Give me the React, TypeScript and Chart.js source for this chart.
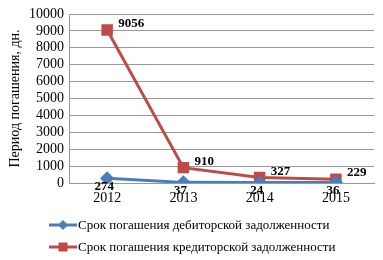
import React, { useEffect, useRef } from "react";
import { Chart, registerables } from "chart.js";

Chart.register(...registerables);

const categories = ["2012", "2013", "2014", "2015"];
const debtorDays = [274, 37, 24, 36];
const creditorDays = [9056, 910, 327, 229];
const seriesNames = [
  "Срок погашения дебиторской задолженности",
  "Срок погашения кредиторской задолженности",
];
const yTitle = "Период погашения, дн.";

const BLUE = "#4A7EBB";
const RED = "#BE4B48";
const FONT = "Liberation Serif";

const labelPlugin = {
  id: "valueLabels",
  afterDatasetsDraw(chart: any) {
    const ctx = chart.ctx;
    ctx.save();
    ctx.font = `bold 13px "${FONT}"`;
    ctx.fillStyle = "#000";
    ctx.textBaseline = "middle";
    chart.data.datasets.forEach((ds: any, di: number) => {
      const meta = chart.getDatasetMeta(di);
      meta.data.forEach((pt: any, i: number) => {
        const v = String(ds.data[i]);
        if (di === 0) {
          ctx.textAlign = "center";
          ctx.fillText(v, pt.x - 3, pt.y + 8);
        } else {
          ctx.textAlign = "left";
          ctx.fillText(v, pt.x + 11, pt.y - 6);
        }
      });
    });
    ctx.restore();
  },
};

const legendPlugin = {
  id: "customLegend",
  afterDraw(chart: any) {
    const ctx = chart.ctx;
    ctx.save();
    const items = [
      { name: seriesNames[0], color: BLUE, style: "diamond", y: 225 },
      { name: seriesNames[1], color: RED, style: "square", y: 247 },
    ];
    items.forEach((it) => {
      ctx.strokeStyle = it.color;
      ctx.lineWidth = 3;
      ctx.beginPath();
      ctx.moveTo(49, it.y);
      ctx.lineTo(77, it.y);
      ctx.stroke();
      ctx.fillStyle = it.color;
      const cx = 63;
      if (it.style === "diamond") {
        ctx.beginPath();
        ctx.moveTo(cx, it.y - 5);
        ctx.lineTo(cx + 5, it.y);
        ctx.lineTo(cx, it.y + 5);
        ctx.lineTo(cx - 5, it.y);
        ctx.closePath();
        ctx.fill();
      } else {
        ctx.fillRect(cx - 4.5, it.y - 4.5, 9, 9);
      }
      ctx.fillStyle = "#000";
      ctx.font = `13px "${FONT}"`;
      ctx.textAlign = "left";
      ctx.textBaseline = "middle";
      ctx.fillText(it.name, 78, it.y + 1);
    });
    ctx.restore();
  },
};

export default function App() {
  const ref = useRef<HTMLCanvasElement | null>(null);
  useEffect(() => {
    document.body.style.margin = "0";
    let chart: any = null;
    let cancelled = false;
    const make = () => {
      if (cancelled || !ref.current) return;
      chart = new Chart(ref.current, {
        type: "line",
        data: {
          labels: categories,
          datasets: [
            {
              label: seriesNames[0],
              data: debtorDays,
              borderColor: BLUE,
              backgroundColor: BLUE,
              borderWidth: 3,
              pointStyle: "rectRot",
              pointRadius: 5,
              pointHoverRadius: 5,
              tension: 0,
            },
            {
              label: seriesNames[1],
              data: creditorDays,
              borderColor: RED,
              backgroundColor: RED,
              borderWidth: 3,
              pointStyle: "rect",
              pointRadius: 6,
              pointHoverRadius: 6,
              tension: 0,
            },
          ],
        },
        options: {
          responsive: false,
          animation: false,
          devicePixelRatio: 1,
          layout: { padding: { left: 0, right: 6, top: 14, bottom: 52 } },
          plugins: {
            legend: { display: false },
            tooltip: { enabled: false },
          },
          scales: {
            x: {
              offset: true,
              grid: { display: false, drawTicks: false },
              border: { display: true, color: "#999", width: 1 },
              ticks: {
                color: "#000",
                font: { family: FONT, size: 14 },
                padding: 7,
                maxRotation: 0,
              },
              afterFit(scale: any) {
                scale.height = 25;
              },
            },
            y: {
              min: 0,
              max: 10000,
              ticks: {
                stepSize: 1000,
                autoSkip: false,
                color: "#000",
                font: { family: FONT, size: 14 },
                padding: 5,
                callback: (v: any) => String(v),
              },
              grid: { color: "#9a9a9a", drawTicks: false, lineWidth: 1 },
              border: { display: true, color: "#999", width: 1 },
              title: {
                display: true,
                text: yTitle,
                color: "#000",
                font: { family: FONT, size: 14 },
                padding: { top: 7, bottom: 0 },
              },
              afterFit(scale: any) {
                scale.width = 69;
              },
            },
          },
        },
        plugins: [labelPlugin, legendPlugin],
      } as any);
    };
    const fonts: any = (document as any).fonts;
    if (fonts && fonts.load) {
      Promise.all([
        fonts.load(`14px "${FONT}"`),
        fonts.load(`13px "${FONT}"`),
        fonts.load(`bold 13px "${FONT}"`),
      ]).then(make, make);
    } else {
      make();
    }
    return () => {
      cancelled = true;
      if (chart) chart.destroy();
    };
  }, []);
  return <canvas ref={ref} width={383} height={260} style={{ display: "block" }} />;
}
